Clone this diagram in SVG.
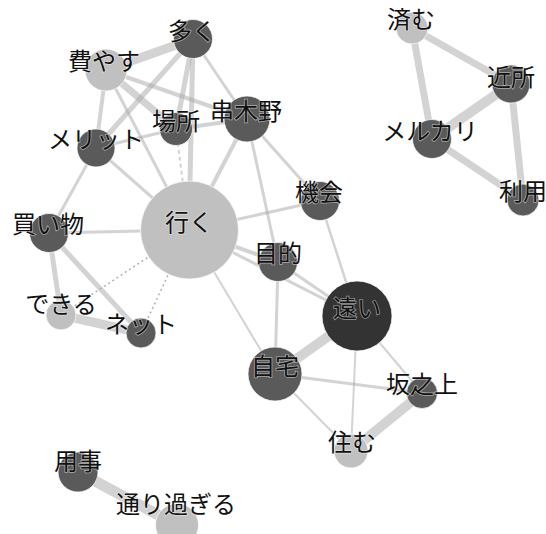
<svg xmlns="http://www.w3.org/2000/svg" width="546" height="534" viewBox="0 0 546 534">
<style>
  .e { stroke: #a8a8a8; stroke-opacity: 0.5; stroke-linecap: butt; fill: none; }
  .dot { stroke: #b0b0b0; stroke-width: 1.5; stroke-dasharray: 2 3; fill: none; }
  .dash { stroke: #a8a8a8; stroke-opacity: 0.5; stroke-width: 2; stroke-dasharray: 4 3; fill: none; }
  .dk { fill: #5a5a5a; stroke: #ffffff; stroke-opacity: 0.7; stroke-width: 1; }
  .lt { fill: #c0c0c0; stroke: #ffffff; stroke-opacity: 0.7; stroke-width: 1; }
  .vd { fill: #333333; stroke: #ffffff; stroke-opacity: 0.7; stroke-width: 1; }
  text { font-family: "Noto Sans CJK JP", "Noto Sans", sans-serif; font-size: 24px; fill: #111111; text-anchor: middle; stroke: #ffffff; stroke-width: 1.5; stroke-opacity: 0.5; paint-order: stroke; }
</style>
<rect width="546" height="534" fill="#ffffff"/>
<g id="edges">
  <!-- cluster 1 -->
  <line class="e" x1="193" y1="39" x2="106" y2="70" stroke-width="9"/>
  <line class="e" x1="106" y1="70" x2="176" y2="129" stroke-width="7"/>
  <line class="e" x1="193" y1="39" x2="96" y2="148" stroke-width="5"/>
  <line class="e" x1="193" y1="39" x2="176" y2="129" stroke-width="5"/>
  <line class="e" x1="193" y1="39" x2="189" y2="230" stroke-width="5"/>
  <line class="e" x1="193" y1="39" x2="247" y2="119" stroke-width="3"/>
  <line class="e" x1="106" y1="70" x2="247" y2="119" stroke-width="4"/>
  <line class="e" x1="106" y1="70" x2="96" y2="148" stroke-width="4"/>
  <line class="e" x1="106" y1="70" x2="189" y2="230" stroke-width="3"/>
  <line class="e" x1="176" y1="129" x2="247" y2="119" stroke-width="4"/>
  <line class="e" x1="96" y1="148" x2="176" y2="129" stroke-width="3"/>
  <line class="dash" x1="176" y1="129" x2="189" y2="230"/>
  <line class="e" x1="96" y1="148" x2="189" y2="230" stroke-width="3"/>
  <line class="e" x1="96" y1="148" x2="49" y2="233" stroke-width="3"/>
  <line class="e" x1="247" y1="119" x2="189" y2="230" stroke-width="4"/>
  <line class="e" x1="247" y1="119" x2="278" y2="262" stroke-width="3"/>
  <line class="e" x1="247" y1="119" x2="320" y2="201" stroke-width="3"/>
  <line class="e" x1="189" y1="230" x2="320" y2="201" stroke-width="3"/>
  <line class="e" x1="189" y1="230" x2="278" y2="262" stroke-width="4"/>
  <line class="e" x1="189" y1="230" x2="357" y2="316" stroke-width="3"/>
  <line class="e" x1="278" y1="262" x2="357" y2="316" stroke-width="3"/>
  <line class="e" x1="189" y1="230" x2="275" y2="374" stroke-width="2"/>
  <line class="e" x1="189" y1="230" x2="49" y2="233" stroke-width="3"/>
  <line class="dot" x1="189" y1="230" x2="61" y2="315"/>
  <line class="dot" x1="189" y1="230" x2="141" y2="333"/>
  <line class="e" x1="49" y1="233" x2="61" y2="315" stroke-width="5"/>
  <line class="e" x1="49" y1="233" x2="141" y2="333" stroke-width="5"/>
  <line class="e" x1="61" y1="315" x2="141" y2="333" stroke-width="9"/>
  <line class="e" x1="320" y1="201" x2="357" y2="316" stroke-width="2.5"/>
  <line class="e" x1="278" y1="262" x2="275" y2="374" stroke-width="3"/>
  <line class="e" x1="357" y1="316" x2="275" y2="374" stroke-width="10"/>
  <line class="e" x1="357" y1="316" x2="422" y2="393" stroke-width="2"/>
  <line class="e" x1="357" y1="316" x2="351" y2="451" stroke-width="2"/>
  <line class="e" x1="275" y1="374" x2="422" y2="393" stroke-width="3"/>
  <line class="e" x1="275" y1="374" x2="351" y2="451" stroke-width="2"/>
  <line class="e" x1="422" y1="393" x2="351" y2="451" stroke-width="10"/>
  <!-- cluster 2 -->
  <line class="e" x1="412" y1="28" x2="511" y2="84" stroke-width="7"/>
  <line class="e" x1="412" y1="28" x2="432" y2="139" stroke-width="7"/>
  <line class="e" x1="511" y1="84" x2="432" y2="139" stroke-width="10"/>
  <line class="e" x1="511" y1="84" x2="523" y2="200" stroke-width="7"/>
  <line class="e" x1="432" y1="139" x2="523" y2="200" stroke-width="7"/>
  <!-- cluster 3 -->
  <line class="e" x1="78" y1="472" x2="177" y2="525" stroke-width="11"/>
</g>
<g id="n-iku"><circle class="lt" cx="189.5" cy="230" r="49"/><text x="189" y="231">行く</text></g>
<g id="n-tooi"><circle class="vd" cx="357" cy="316" r="35"/><text x="357" y="317">遠い</text></g>
<g id="n-jitaku"><circle class="dk" cx="275" cy="374" r="27"/><text x="275" y="375">自宅</text></g>
<g id="n-kushikino"><circle class="dk" cx="247" cy="119" r="23"/><text x="246" y="120">串木野</text></g>
<g id="n-tsuiyasu"><circle class="lt" cx="106" cy="70" r="21"/><text x="104" y="70">費やす</text></g>
<g id="n-ooku"><circle class="dk" cx="193" cy="39" r="19.5"/><text x="192" y="40">多く</text></g>
<g id="n-basho"><circle class="dk" cx="176" cy="129" r="16.5"/><text x="176" y="130">場所</text></g>
<g id="n-merit"><circle class="dk" cx="96" cy="148" r="19"/><text x="96" y="148">メリット</text></g>
<g id="n-kaimono"><circle class="dk" cx="49" cy="233" r="19.5"/><text x="48" y="233">買い物</text></g>
<g id="n-dekiru"><circle class="lt" cx="61" cy="315" r="15"/><text x="61" y="313">できる</text></g>
<g id="n-net"><circle class="dk" cx="141" cy="333" r="15"/><text x="141" y="333">ネット</text></g>
<g id="n-kikai"><circle class="dk" cx="320" cy="201" r="19.5"/><text x="319" y="201">機会</text></g>
<g id="n-mokuteki"><circle class="dk" cx="278" cy="262" r="19.5"/><text x="278" y="262">目的</text></g>
<g id="n-sakanoue"><circle class="dk" cx="422" cy="393" r="15.5"/><text x="422" y="393">坂之上</text></g>
<g id="n-sumu"><circle class="lt" cx="351" cy="451" r="17"/><text x="352" y="451">住む</text></g>
<g id="n-sumu2"><circle class="lt" cx="412" cy="28" r="16"/><text x="411" y="28">済む</text></g>
<g id="n-kinjo"><circle class="dk" cx="511" cy="84" r="19"/><text x="511" y="86">近所</text></g>
<g id="n-mercari"><circle class="dk" cx="432" cy="139" r="19.5"/><text x="430" y="140">メルカリ</text></g>
<g id="n-riyou"><circle class="dk" cx="523" cy="200" r="16"/><text x="523" y="200">利用</text></g>
<g id="n-youji"><circle class="dk" cx="78" cy="472" r="20"/><text x="78" y="470">用事</text></g>
<g id="n-toorisugiru"><circle class="lt" cx="177" cy="525" r="21.5"/><text x="176" y="513">通り過ぎる</text></g>
</svg>
